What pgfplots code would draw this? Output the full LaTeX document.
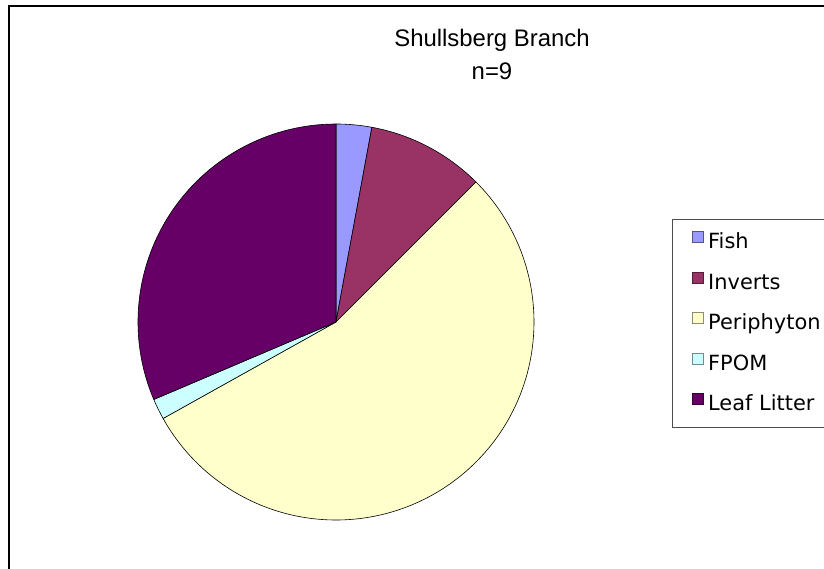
\documentclass[border=0pt]{standalone}
\usepackage{pgfplots}
\pgfplotsset{compat=1.18}
\usepackage{pgfplotstable}
\usepackage{fontspec}
\setmainfont{Liberation Sans}
\newfontfamily\legfont{DejaVu Sans}
\definecolor{pieA}{HTML}{9999FF}
\definecolor{pieB}{HTML}{993366}
\definecolor{pieC}{HTML}{FFFFCC}
\definecolor{pieD}{HTML}{CCFFFF}
\definecolor{pieE}{HTML}{660066}
\pgfplotstableread{
source value
Fish 2.9
Inverts 9.6
Periphyton 54.4
FPOM 1.7
LeafLitter 31.4
}\piedata
\begin{document}
\begin{tikzpicture}
\pgfplotstablegetelem{0}{value}\of\piedata \let\vA\pgfplotsretval
\pgfplotstablegetelem{1}{value}\of\piedata \let\vB\pgfplotsretval
\pgfplotstablegetelem{2}{value}\of\piedata \let\vC\pgfplotsretval
\pgfplotstablegetelem{3}{value}\of\piedata \let\vD\pgfplotsretval
\pgfplotstablegetelem{4}{value}\of\piedata \let\vE\pgfplotsretval
\pgfmathsetmacro\aA{90}
\pgfmathsetmacro\aB{\aA-3.6*\vA}
\pgfmathsetmacro\aC{\aB-3.6*\vB}
\pgfmathsetmacro\aD{\aC-3.6*\vC}
\pgfmathsetmacro\aE{\aD-3.6*\vD}
\pgfmathsetmacro\aF{\aE-3.6*\vE}
\useasboundingbox (0,0) rectangle (824bp,569bp);
\clip (0,0) rectangle (824bp,569bp);
\begin{axis}[
  at={(0,0)}, anchor=origin,
  x=1bp, y=1bp, xmin=0, xmax=824, ymin=0, ymax=569,
  scale only axis, hide axis, clip=false,
  legend style={at={(axis cs:672,350)}, anchor=north west,
    draw=black!70, line width=0.8bp,
    inner xsep=20bp, inner ysep=11.8bp,
    row sep=18.1bp, column sep=4bp,
    font=\legfont\fontsize{21}{25}\selectfont,
    cells={anchor=base west},
    nodes={inner sep=0pt, text height=17bp, text depth=5bp}},
  legend cell align=left,
]
\draw[line width=1.6bp, black] (axis cs:9,-30) -- (axis cs:9,563) -- (axis cs:900,563);
\filldraw[fill=pieA, draw=black, line width=0.6bp, line join=round] (axis cs:336,247) -- ++(\aA:198bp) arc[start angle=\aA, end angle=\aB, radius=198bp] -- cycle;
\filldraw[fill=pieB, draw=black, line width=0.6bp, line join=round] (axis cs:336,247) -- ++(\aB:198bp) arc[start angle=\aB, end angle=\aC, radius=198bp] -- cycle;
\filldraw[fill=pieC, draw=black, line width=0.6bp, line join=round] (axis cs:336,247) -- ++(\aC:198bp) arc[start angle=\aC, end angle=\aD, radius=198bp] -- cycle;
\filldraw[fill=pieD, draw=black, line width=0.6bp, line join=round] (axis cs:336,247) -- ++(\aD:198bp) arc[start angle=\aD, end angle=\aE, radius=198bp] -- cycle;
\filldraw[fill=pieE, draw=black, line width=0.6bp, line join=round] (axis cs:336,247) -- ++(\aE:198bp) arc[start angle=\aE, end angle=\aF, radius=198bp] -- cycle;
\node[anchor=base, font=\fontsize{24}{28}\selectfont] at (axis cs:492,522) {Shullsberg Branch};
\node[anchor=base, font=\fontsize{24}{28}\selectfont] at (axis cs:492,489) {n=9};
\addlegendimage{legend image code/.code={\path (0bp,-4bp); \draw[fill=pieA, draw=pieA!55!black, line width=0.8bp] (0bp,0bp) rectangle (11bp,11bp);}}
\addlegendentry{Fish}
\addlegendimage{legend image code/.code={\path (0bp,-4bp); \draw[fill=pieB, draw=pieB!55!black, line width=0.8bp] (0bp,0bp) rectangle (11bp,11bp);}}
\addlegendentry{Inverts}
\addlegendimage{legend image code/.code={\path (0bp,-4bp); \draw[fill=pieC, draw=pieC!55!black, line width=0.8bp] (0bp,0bp) rectangle (11bp,11bp);}}
\addlegendentry{Periphyton}
\addlegendimage{legend image code/.code={\path (0bp,-4bp); \draw[fill=pieD, draw=pieD!55!black, line width=0.8bp] (0bp,0bp) rectangle (11bp,11bp);}}
\addlegendentry{FPOM}
\addlegendimage{legend image code/.code={\path (0bp,-4bp); \draw[fill=pieE, draw=pieE!55!black, line width=0.8bp] (0bp,0bp) rectangle (11bp,11bp);}}
\addlegendentry{Leaf Litter}
\end{axis}
\end{tikzpicture}
\end{document}
